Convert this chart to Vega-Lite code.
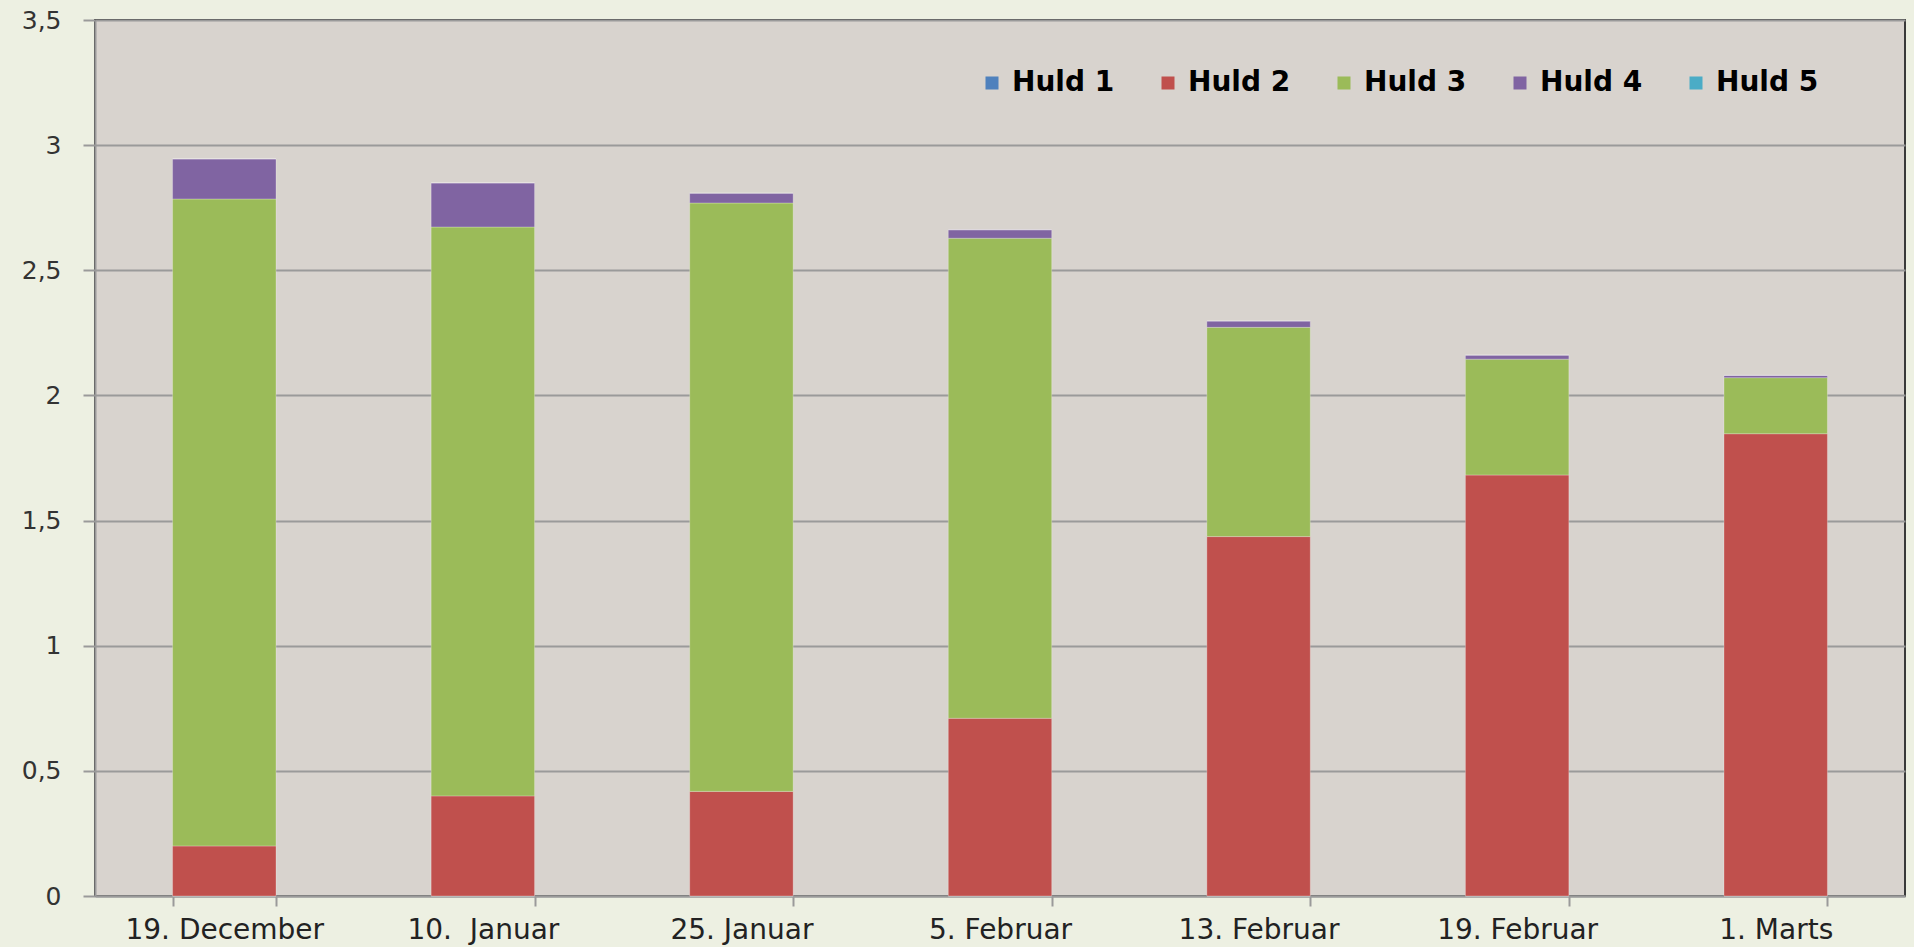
{
  "$schema": "https://vega.github.io/schema/vega-lite/v6.json",
  "width": 1810,
  "height": 876,
  "autosize": {"type": "none"},
  "padding": {"left": 95, "top": 20, "right": 9, "bottom": 51},
  "background": "#EDF0E2",
  "config": {
    "view": {"fill": "#D8D3CE", "stroke": "#3a3a3a", "strokeWidth": 2},
    "axis": {"domainColor": "#9a9a9a", "domainWidth": 2, "tickColor": "#9a9a9a", "tickWidth": 2, "gridColor": "#9a9a9a", "gridWidth": 2}
  },
  "data": {
    "values": [
      {"dato": "19. December", "serie": "Huld 1", "n": 1, "v": 0},
      {"dato": "19. December", "serie": "Huld 2", "n": 2, "v": 0.2},
      {"dato": "19. December", "serie": "Huld 3", "n": 3, "v": 2.585},
      {"dato": "19. December", "serie": "Huld 4", "n": 4, "v": 0.16},
      {"dato": "19. December", "serie": "Huld 5", "n": 5, "v": 0},
      {"dato": "10.\u00a0 Januar", "serie": "Huld 1", "n": 1, "v": 0},
      {"dato": "10.\u00a0 Januar", "serie": "Huld 2", "n": 2, "v": 0.4},
      {"dato": "10.\u00a0 Januar", "serie": "Huld 3", "n": 3, "v": 2.273},
      {"dato": "10.\u00a0 Januar", "serie": "Huld 4", "n": 4, "v": 0.176},
      {"dato": "10.\u00a0 Januar", "serie": "Huld 5", "n": 5, "v": 0},
      {"dato": "25. Januar", "serie": "Huld 1", "n": 1, "v": 0},
      {"dato": "25. Januar", "serie": "Huld 2", "n": 2, "v": 0.418},
      {"dato": "25. Januar", "serie": "Huld 3", "n": 3, "v": 2.351},
      {"dato": "25. Januar", "serie": "Huld 4", "n": 4, "v": 0.039},
      {"dato": "25. Januar", "serie": "Huld 5", "n": 5, "v": 0},
      {"dato": "5. Februar", "serie": "Huld 1", "n": 1, "v": 0},
      {"dato": "5. Februar", "serie": "Huld 2", "n": 2, "v": 0.71},
      {"dato": "5. Februar", "serie": "Huld 3", "n": 3, "v": 1.918},
      {"dato": "5. Februar", "serie": "Huld 4", "n": 4, "v": 0.034},
      {"dato": "5. Februar", "serie": "Huld 5", "n": 5, "v": 0},
      {"dato": "13. Februar", "serie": "Huld 1", "n": 1, "v": 0},
      {"dato": "13. Februar", "serie": "Huld 2", "n": 2, "v": 1.436},
      {"dato": "13. Februar", "serie": "Huld 3", "n": 3, "v": 0.836},
      {"dato": "13. Februar", "serie": "Huld 4", "n": 4, "v": 0.025},
      {"dato": "13. Februar", "serie": "Huld 5", "n": 5, "v": 0},
      {"dato": "19. Februar", "serie": "Huld 1", "n": 1, "v": 0},
      {"dato": "19. Februar", "serie": "Huld 2", "n": 2, "v": 1.682},
      {"dato": "19. Februar", "serie": "Huld 3", "n": 3, "v": 0.463},
      {"dato": "19. Februar", "serie": "Huld 4", "n": 4, "v": 0.016},
      {"dato": "19. Februar", "serie": "Huld 5", "n": 5, "v": 0},
      {"dato": "1. Marts", "serie": "Huld 1", "n": 1, "v": 0},
      {"dato": "1. Marts", "serie": "Huld 2", "n": 2, "v": 1.847},
      {"dato": "1. Marts", "serie": "Huld 3", "n": 3, "v": 0.224},
      {"dato": "1. Marts", "serie": "Huld 4", "n": 4, "v": 0.009},
      {"dato": "1. Marts", "serie": "Huld 5", "n": 5, "v": 0}
    ]
  },
  "mark": {"type": "bar", "stroke": "#ffffff", "strokeOpacity": 0.25, "strokeWidth": 1},
  "encoding": {
    "x": {
      "field": "dato",
      "type": "nominal",
      "sort": null,
      "title": null,
      "scale": {"paddingInner": 0.6, "paddingOuter": 0.3},
      "axis": {
        "labelAngle": 0,
        "labelFont": "DejaVu Sans",
        "labelFontSize": 28,
        "labelColor": "#222222",
        "labelPadding": 10,
        "labelLimit": 0,
        "tickSize": 10,
        "tickBand": "extent",
        "grid": false
      }
    },
    "y": {
      "field": "v",
      "type": "quantitative",
      "stack": "zero",
      "title": null,
      "scale": {"domain": [0, 3.5], "nice": false},
      "axis": {
        "values": [0, 0.5, 1, 1.5, 2, 2.5, 3, 3.5],
        "labelExpr": "replace(format(datum.value, '~g'), '.', ',')",
        "labelFont": "DejaVu Sans",
        "labelFontSize": 25,
        "labelColor": "#333333",
        "tickSize": 12,
        "labelPadding": 22,
        "grid": true
      }
    },
    "order": {"field": "n", "type": "quantitative", "sort": "ascending"},
    "color": {
      "field": "serie",
      "type": "nominal",
      "scale": {
        "domain": ["Huld 1", "Huld 2", "Huld 3", "Huld 4", "Huld 5"],
        "range": ["#4F81BD", "#C0504D", "#9BBB59", "#8064A2", "#4BACC6"]
      },
      "legend": {
        "title": null,
        "orient": "none",
        "legendX": 883,
        "legendY": 49,
        "direction": "horizontal",
        "padding": 0,
        "symbolType": "square",
        "symbolSize": 169,
        "symbolStrokeWidth": 0,
        "labelFont": "DejaVu Sans",
        "labelFontWeight": "bold",
        "labelFontSize": 28,
        "labelColor": "#000000",
        "labelOffset": 6,
        "labelLimit": 0,
        "columnPadding": 39
      }
    }
  }
}
